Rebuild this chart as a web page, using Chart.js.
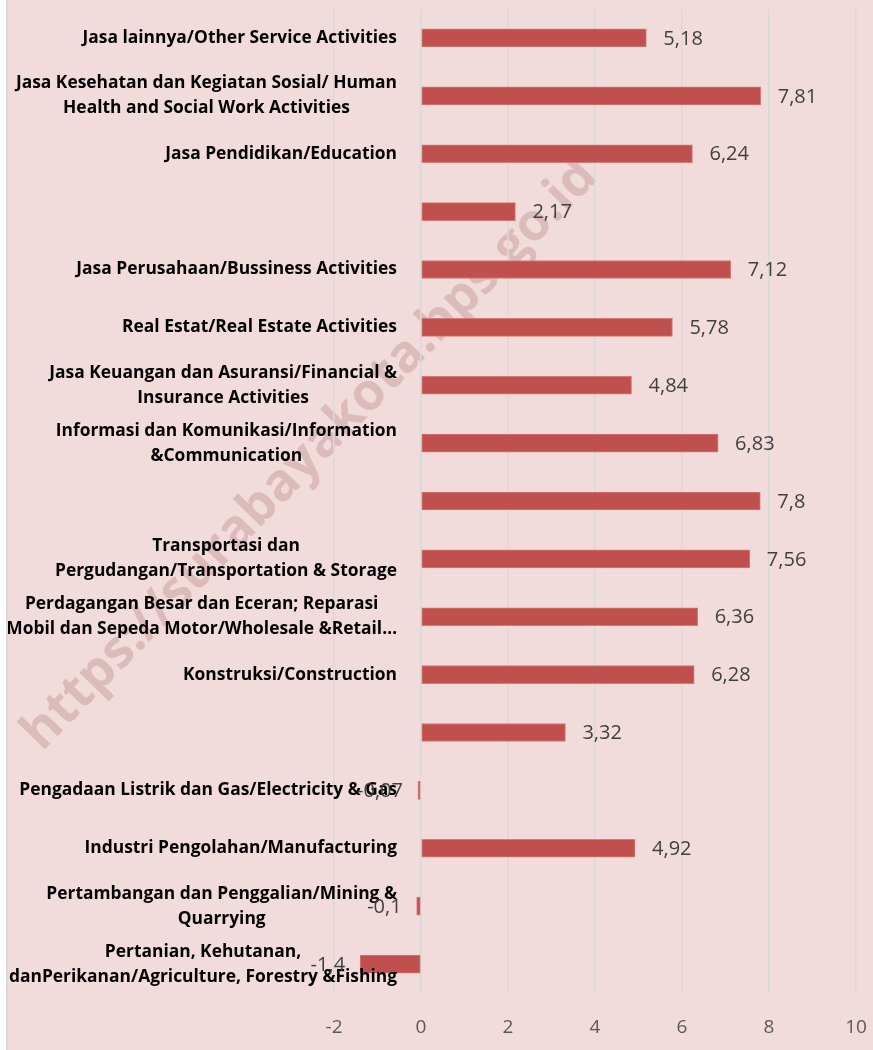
<!DOCTYPE html>
<html>
<head>
<meta charset="utf-8">
<script src="https://cdn.jsdelivr.net/npm/chart.js@4.4.1/dist/chart.umd.min.js"></script>
<style>
  body { margin: 0; background: #ffffff; }
  #wrap {
    position: absolute; left: 6px; top: 0;
    width: 865px; height: 1050px;
    border-left: 2px solid #d9d9d9;
    background: #f2dcdb;
  }
</style>
</head>
<body>
<div id="wrap"><canvas id="growth_chart" width="865" height="1050"></canvas></div>
<script>
// sector names (top to bottom), blank ones have no label in the source
const sectors = [
  ["Jasa lainnya/Other Service Activities"],
  ["Jasa Kesehatan dan Kegiatan Sosial/ Human", "Health and Social Work Activities"],
  ["Jasa Pendidikan/Education"],
  [""],
  ["Jasa Perusahaan/Bussiness Activities"],
  ["Real Estat/Real Estate Activities"],
  ["Jasa Keuangan dan Asuransi/Financial &", "Insurance Activities"],
  ["Informasi dan Komunikasi/Information", "&Communication"],
  [""],
  ["Transportasi dan", "Pergudangan/Transportation & Storage"],
  ["Perdagangan Besar dan Eceran; Reparasi", "Mobil dan Sepeda Motor/Wholesale &Retail\u2026"],
  ["Konstruksi/Construction"],
  [""],
  ["Pengadaan Listrik dan Gas/Electricity & Gas"],
  ["Industri Pengolahan/Manufacturing"],
  ["Pertambangan dan Penggalian/Mining &", "Quarrying"],
  ["Pertanian, Kehutanan,", "danPerikanan/Agriculture, Forestry &Fishing"]
];
const growth = [5.18, 7.81, 6.24, 2.17, 7.12, 5.78, 4.84, 6.83, 7.8, 7.56, 6.36, 6.28, 3.32, -0.07, 4.92, -0.1, -1.4];
const xTicks = [-2, 0, 2, 4, 6, 8, 10];

const barColor = "#c0504d";
const labelFont = "bold 17.4px 'Open Sans', 'Noto Sans', sans-serif";
const valueFont = "20px 'Open Sans', sans-serif";

function fmt(v) {
  return v.toString().replace(".", ",");
}

// watermark sits under the grid and bars
const watermark = {
  id: "watermark",
  beforeDraw(chart) {
    let ctx = chart.ctx;
    ctx.save();
    ctx.translate(302, 455);
    ctx.rotate(-0.8);
    ctx.font = "bold 56px 'Open Sans', sans-serif";
    ctx.fillStyle = "rgba(150,90,90,0.25)";
    ctx.textAlign = "center";
    ctx.textBaseline = "middle";
    let txt = "https://surabayakota.bps.go.id";
    let w = ctx.measureText(txt).width;
    let s = 800 / w;
    ctx.scale(s, s);
    ctx.fillText(txt, 0, 0);
    ctx.restore();
  }
};

// sector names next to the zero line, lines centred inside their block
const sectorLabels = {
  id: "sectorLabels",
  afterDatasetsDraw(chart) {
    let ctx = chart.ctx;
    let yScale = chart.scales.y;
    let xScale = chart.scales.x;
    let right = xScale.getPixelForValue(0) - 24;
    let lineH = 25;
    ctx.save();
    ctx.font = labelFont;
    ctx.fillStyle = "#000000";
    ctx.textBaseline = "middle";
    ctx.textAlign = "center";
    sectors.forEach(function (lines, i) {
      let w = 0;
      lines.forEach(function (l) { w = Math.max(w, ctx.measureText(l).width); });
      let cx = right - w / 2;
      let cy = yScale.getPixelForValue(i);
      let top = cy - (lines.length - 1) * lineH / 2;
      lines.forEach(function (l, k) {
        ctx.fillText(l, cx, top + k * lineH);
      });
    });
    ctx.restore();
  }
};

// value labels outside the bar ends
const valueLabels = {
  id: "valueLabels",
  afterDraw(chart) {
    let ctx = chart.ctx;
    let meta = chart.getDatasetMeta(0);
    ctx.save();
    ctx.font = valueFont;
    ctx.fillStyle = "#404040";
    ctx.textBaseline = "middle";
    meta.data.forEach(function (bar, i) {
      let v = growth[i];
      if (v >= 0) {
        ctx.textAlign = "left";
        ctx.fillText(fmt(v), bar.x + 17, bar.y + 1);
      } else {
        ctx.textAlign = "right";
        ctx.fillText(fmt(v), bar.x - 15, bar.y + 1);
      }
    });
    ctx.restore();
  }
};

new Chart("growth_chart", {
  type: "bar",
  data: {
    labels: sectors.map(function (s) { return s.join(" "); }),
    datasets: [{
      data: growth,
      backgroundColor: barColor,
      borderColor: "#d47a78",
      borderWidth: 1,
      borderSkipped: false,
      barThickness: 18
    }]
  },
  options: {
    indexAxis: "y",
    responsive: false,
    animation: false,
    layout: {
      padding: { left: 326, right: 0, top: 9, bottom: 0 }
    },
    plugins: {
      legend: { display: false },
      title: { display: false },
      tooltip: { enabled: false }
    },
    scales: {
      x: {
        min: -2,
        max: 10,
        afterBuildTicks: function (axis) {
          axis.ticks = xTicks.map(function (v) { return { value: v }; });
        },
        afterFit: function (axis) {
          axis.height = 57;
          axis.paddingRight = 17;
        },
        grid: { color: "#d9d9d9", lineWidth: 1.5, drawTicks: false },
        border: { display: false },
        ticks: {
          color: "#595959",
          padding: 23,
          font: { family: "'Open Sans', sans-serif", size: 19 }
        }
      },
      y: {
        display: false
      }
    }
  },
  plugins: [watermark, sectorLabels, valueLabels]
});
</script>
</body>
</html>
